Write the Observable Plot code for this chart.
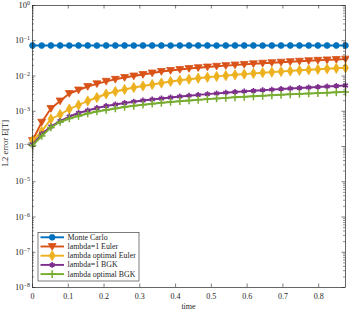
<!DOCTYPE html>
<html><head><meta charset="utf-8">
<script src="https://cdn.jsdelivr.net/npm/d3@7"></script>
<script src="https://cdn.jsdelivr.net/npm/@observablehq/plot@0.6"></script>
<style>body{margin:0;background:#fff}#chart{width:349px;height:310px}</style>
</head><body><div id="chart"></div>
<script>
const time = [0, 0.0257, 0.0515, 0.0772, 0.1029, 0.1287, 0.1544, 0.1801, 0.2059, 0.2316, 0.2574, 0.2831, 0.3088, 0.3346, 0.3603, 0.3860, 0.4118, 0.4375, 0.4632, 0.4890, 0.5147, 0.5404, 0.5662, 0.5919, 0.6176, 0.6434, 0.6691, 0.6949, 0.7206, 0.7463, 0.7721, 0.7978, 0.8235, 0.8493, 0.875];

const monteCarlo = [0.0733, 0.0732, 0.0733, 0.0733, 0.0732, 0.0733, 0.0733, 0.0732, 0.0733, 0.0733, 0.0733, 0.0732, 0.0733, 0.0733, 0.0733, 0.0732, 0.0733, 0.0733, 0.0733, 0.0733, 0.0732, 0.0733, 0.0733, 0.0733, 0.0733, 0.0732, 0.0733, 0.0733, 0.0733, 0.0733, 0.0733, 0.0733, 0.0733, 0.0733, 0.0733];
const lambda1Euler = [1.48e-4, 4.89e-4, 1.197e-3, 1.953e-3, 3.19e-3, 4.007e-3, 5.036e-3, 6.007e-3, 7.07e-3, 8.06e-3, 9.07e-3, 0.0100, 0.01103, 0.01216, 0.01342, 0.01432, 0.01529, 0.01632, 0.01720, 0.01800, 0.01884, 0.01972, 0.02051, 0.02134, 0.02219, 0.02307, 0.02384, 0.02463, 0.02545, 0.02629, 0.02716, 0.02788, 0.02862, 0.02938, 0.03016];
const lambdaOptEuler = [1.48e-4, 2.664e-4, 6.03e-4, 8.09e-4, 1.158e-3, 1.504e-3, 1.953e-3, 2.455e-3, 3.086e-3, 3.634e-3, 4.140e-3, 4.719e-3, 5.203e-3, 5.740e-3, 6.330e-3, 6.98e-3, 7.55e-3, 8.11e-3, 8.66e-3, 9.19e-3, 9.74e-3, 0.01026, 0.01081, 0.01132, 0.01185, 0.01240, 0.01290, 0.01342, 0.01395, 0.01451, 0.01499, 0.01549, 0.01601, 0.01653, 0.01708];
const lambda1BGK = [1.139e-4, 2.262e-4, 3.693e-4, 5.29e-4, 7.10e-4, 8.92e-4, 1.050e-3, 1.236e-3, 1.409e-3, 1.554e-3, 1.714e-3, 1.866e-3, 2.018e-3, 2.154e-3, 2.300e-3, 2.455e-3, 2.620e-3, 2.761e-3, 2.909e-3, 3.065e-3, 3.209e-3, 3.359e-3, 3.517e-3, 3.658e-3, 3.804e-3, 3.955e-3, 4.114e-3, 4.278e-3, 4.420e-3, 4.567e-3, 4.719e-3, 4.875e-3, 5.036e-3, 5.203e-3, 5.376e-3];
const lambdaOptBGK = [1.068e-4, 1.986e-4, 3.459e-4, 4.955e-4, 6.228e-4, 7.334e-4, 8.636e-4, 9.84e-4, 1.085e-3, 1.197e-3, 1.320e-3, 1.427e-3, 1.534e-3, 1.637e-3, 1.737e-3, 1.830e-3, 1.928e-3, 2.018e-3, 2.113e-3, 2.212e-3, 2.300e-3, 2.392e-3, 2.487e-3, 2.570e-3, 2.656e-3, 2.744e-3, 2.835e-3, 2.929e-3, 3.026e-3, 3.106e-3, 3.188e-3, 3.273e-3, 3.359e-3, 3.448e-3, 3.539e-3];

const seriesNames = ["Monte Carlo", "lambda=1 Euler", "lambda optimal Euler", "lambda=1 BGK", "lambda optimal BGK"];
const seriesValues = [monteCarlo, lambda1Euler, lambdaOptEuler, lambda1BGK, lambdaOptBGK];
const xTicks = [0, 0.1, 0.2, 0.3, 0.4, 0.5, 0.6, 0.7, 0.8];
const yTicks = [1e-8, 1e-7, 1e-6, 1e-5, 1e-4, 1e-3, 1e-2, 1e-1, 1];

const colors = ["#0072BD", "#D95319", "#EDB120", "#7E2F8E", "#77AC30"];
const triDown = {draw(ctx, size) { const a = Math.sqrt(size) * 0.62; ctx.moveTo(-a, -a * 0.75); ctx.lineTo(a, -a * 0.75); ctx.lineTo(0, a * 0.95); ctx.closePath(); }};
const styles = [
  {symbol: "circle", r: 2.9, fill: true, sw: 0.8},
  {symbol: triDown, r: 3.6, fill: true, sw: 0.8},
  {symbol: "diamond", r: 3.1, fill: true, sw: 0.8},
  {symbol: "asterisk", r: 2.7, fill: false, sw: 1.6},
  {symbol: "plus", r: 2.6, fill: false, sw: 1.5}
];

const yMinor = [];
for (let e = -8; e < 0; e++) for (let k = 2; k <= 9; k++) yMinor.push(+(k * Math.pow(10, e)).toPrecision(3));

const W = 349, H = 310, mT = 5, mB = 23, mL = 32, mR = 4;
const fh = H - mT - mB, fw = W - mL - mR;
const axisColor = "#262626";
const font = "Liberation Serif, 'DejaVu Serif', serif";

const marks = [];
seriesValues.forEach((vals, s) => {
  const data = vals.map((v, i) => ({t: time[i], v}));
  const st = styles[s];
  marks.push(Plot.line(data, {x: "t", y: "v", stroke: colors[s], strokeWidth: 1.9}));
  marks.push(Plot.dot(data, {x: "t", y: "v", symbol: st.symbol, r: st.r,
    fill: st.fill ? colors[s] : "none", stroke: colors[s], strokeWidth: st.sw}));
});

const plot = Plot.plot({
  width: W, height: H, marginTop: mT, marginBottom: mB, marginLeft: mL, marginRight: mR,
  style: {fontFamily: font, fontSize: "8px", color: axisColor, background: "#fff"},
  x: {domain: [0, 0.875]},
  y: {type: "log", domain: [1e-8, 1]},
  marks: [
    ...marks,
    Plot.ruleX(xTicks, {x: d => d, insetTop: fh - 3.5, stroke: axisColor, strokeWidth: 0.6}),
    Plot.ruleX(xTicks, {x: d => d, insetBottom: fh - 3.5, stroke: axisColor, strokeWidth: 0.6}),
    Plot.ruleY(yTicks, {y: d => d, insetRight: fw - 3.5, stroke: axisColor, strokeWidth: 0.6}),
    Plot.ruleY(yTicks, {y: d => d, insetLeft: fw - 3.5, stroke: axisColor, strokeWidth: 0.6}),
    Plot.ruleY(yMinor, {y: d => d, insetRight: fw - 2, stroke: axisColor, strokeWidth: 0.5}),
    Plot.ruleY(yMinor, {y: d => d, insetLeft: fw - 2, stroke: axisColor, strokeWidth: 0.5}),
    Plot.frame({stroke: axisColor, strokeWidth: 0.7}),
    Plot.axisX({ticks: xTicks, tickSize: 0, tickPadding: 5.5, tickFormat: d => d === 0 ? "0" : d.toFixed(1), label: null, fontSize: 8}),
    Plot.axisY({ticks: yTicks, tickSize: 0, tickPadding: 2.5, tickFormat: d => "10^" + Math.round(Math.log10(d)), label: null, fontSize: 8.5})
  ]
});

document.getElementById("chart").appendChild(plot);
const svg = d3.select(plot);

// superscript exponents
svg.selectAll('g[aria-label="y-axis tick label"] text').each(function() {
  const s = this.textContent;
  const exp = s.split("^")[1].replace("-", "\u2212");
  const t = d3.select(this);
  t.text("10");
  t.append("tspan").attr("dy", "-0.5em").attr("font-size", "6px").text(exp);
});

// axis titles
svg.append("text").attr("x", mL + fw / 2).attr("y", 308.5).attr("text-anchor", "middle")
  .attr("font-family", font).attr("font-size", "8px").attr("fill", axisColor).text("time");
svg.append("text").attr("transform", `translate(8,${mT + fh / 2 - 3}) rotate(-90)`).attr("text-anchor", "middle")
  .attr("font-family", font).attr("font-size", "8.5px").attr("fill", axisColor).text("L2 error E[T]");

// legend
const lg = svg.append("g").attr("text-anchor", "start");
lg.append("rect").attr("x", 38).attr("y", 232.5).attr("width", 101).attr("height", 48.5)
  .attr("fill", "#fff").attr("stroke", axisColor).attr("stroke-width", 0.6);
seriesNames.forEach((name, i) => {
  const y = 237.3 + i * 9.2;
  lg.append("line").attr("x1", 40.5).attr("x2", 64).attr("y1", y).attr("y2", y)
    .attr("stroke", colors[i]).attr("stroke-width", 1.9);
  const st = styles[i];
  const type = typeof st.symbol === "string" ? {circle: d3.symbolCircle, diamond: d3.symbolDiamond, asterisk: d3.symbolAsterisk, plus: d3.symbolPlus}[st.symbol] : st.symbol;
  lg.append("path").attr("transform", `translate(52.2,${y})`)
    .attr("d", d3.symbol(type, Math.PI * st.r * st.r)())
    .attr("fill", st.fill ? colors[i] : "none").attr("stroke", colors[i]).attr("stroke-width", st.sw);
  lg.append("text").attr("x", 67.5).attr("y", y).attr("dy", "0.32em").attr("text-anchor", "start")
    .attr("font-family", font).attr("font-size", "7.9px").attr("fill", axisColor).text(name);
});
</script>
</body></html>
